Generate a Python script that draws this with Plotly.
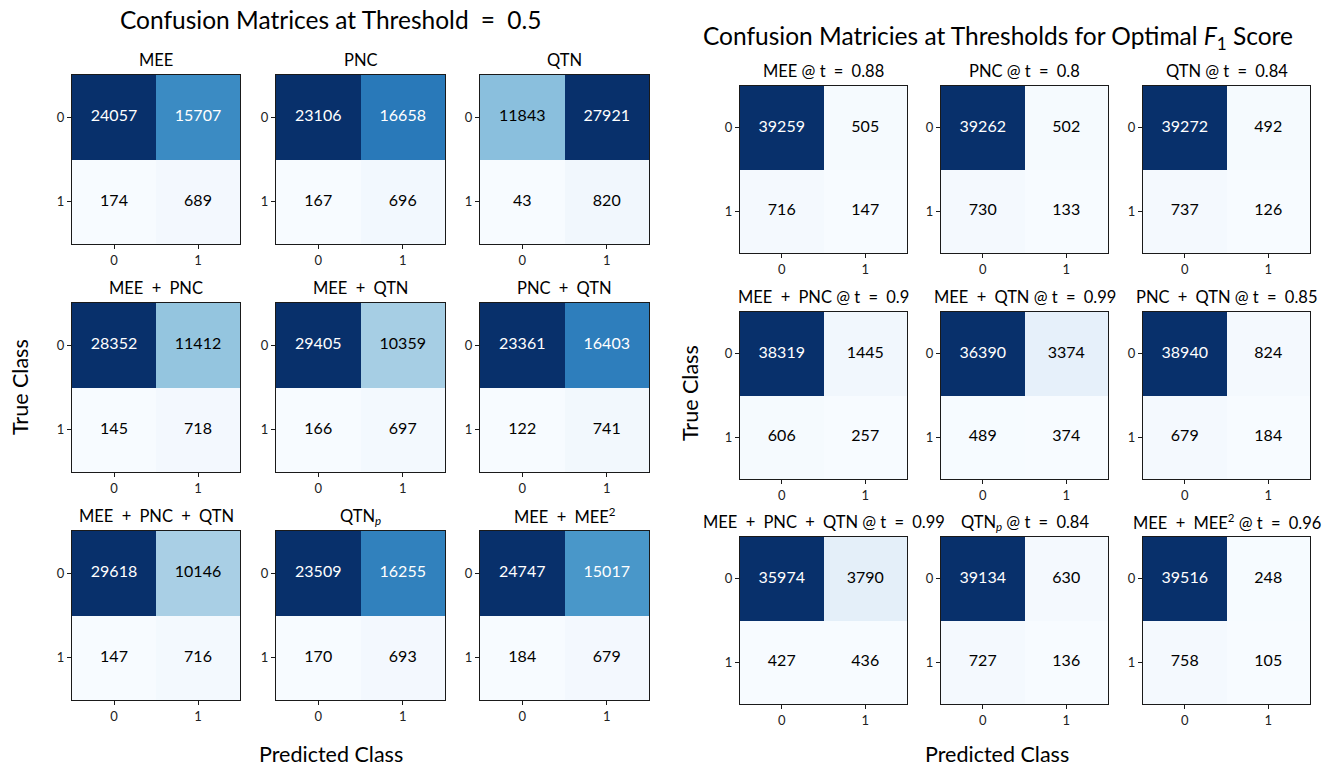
import plotly.graph_objects as go

# ---------------- data ----------------
classes = [0, 1]
tick_labels = ["0", "1"]

SP = "\u2002"  # wider math-like spacing around + and =
left_titles = ["MEE", "PNC", "QTN",
               f"MEE{SP}+{SP}PNC", f"MEE{SP}+{SP}QTN", f"PNC{SP}+{SP}QTN",
               f"MEE{SP}+{SP}PNC{SP}+{SP}QTN", "QTN<sub><i>p</i></sub>", f"MEE{SP}+{SP}MEE<sup>2</sup>"]
left_tn = [24057, 23106, 11843, 28352, 29405, 23361, 29618, 23509, 24747]
left_fp = [15707, 16658, 27921, 11412, 10359, 16403, 10146, 16255, 15017]
left_fn = [174, 167, 43, 145, 166, 122, 147, 170, 184]
left_tp = [689, 696, 820, 718, 697, 741, 716, 693, 679]

right_models = ["MEE", "PNC", "QTN",
                f"MEE{SP}+{SP}PNC", f"MEE{SP}+{SP}QTN", f"PNC{SP}+{SP}QTN",
                f"MEE{SP}+{SP}PNC{SP}+{SP}QTN", "QTN<sub><i>p</i></sub>", f"MEE{SP}+{SP}MEE<sup>2</sup>"]
right_thresholds = ["0.88", "0.8", "0.84", "0.9", "0.99", "0.85", "0.99", "0.84", "0.96"]
right_tn = [39259, 39262, 39272, 38319, 36390, 38940, 35974, 39134, 39516]
right_fp = [505, 502, 492, 1445, 3374, 824, 3790, 630, 248]
right_fn = [716, 730, 737, 606, 489, 679, 427, 727, 758]
right_tp = [147, 133, 126, 257, 374, 184, 436, 136, 105]

# ---------------- layout geometry (pixels) ----------------
W, H = 1332, 768
FONT = "Lato, 'Open Sans', sans-serif"
BLUES = [[0.0, "rgb(247,251,255)"], [0.125, "rgb(222,235,247)"], [0.25, "rgb(198,219,239)"],
         [0.375, "rgb(158,202,225)"], [0.5, "rgb(107,174,214)"], [0.625, "rgb(66,146,198)"],
         [0.75, "rgb(33,113,181)"], [0.875, "rgb(8,81,156)"], [1.0, "rgb(8,48,107)"]]

left_cols = [(72, 240), (276, 445), (480, 649)]
left_rows = [(75, 244), (303, 472), (531, 700)]
right_cols = [(740, 907), (941, 1108), (1143, 1310)]
right_rows = [(86, 253), (312, 479), (537, 704)]


def px_x(p):
    return p / W


def px_y(p):
    return 1 - p / H


fig = go.Figure()
layout_axes = {}
annotations = []


def add_matrix(k, col, row, tn, fp, fn, tp, title):
    z = [[tn, fp], [fn, tp]]
    vals = [tn, fp, fn, tp]
    zmin, zmax = min(vals), max(vals)
    thresh = (zmin + zmax) / 2
    xs = f"x{k}" if k > 1 else "x"
    ys = f"y{k}" if k > 1 else "y"
    fig.add_trace(go.Heatmap(z=z, x=classes, y=classes, colorscale=BLUES, zmin=zmin, zmax=zmax,
                             showscale=False, xaxis=xs, yaxis=ys, hoverinfo="z"))
    tx, ty, tt, tc = [], [], [], []
    for i in range(2):
        for j in range(2):
            v = z[i][j]
            tx.append(classes[j])
            ty.append(classes[i])
            tt.append(str(v))
            tc.append("white" if v > thresh else "black")
    fig.add_trace(go.Scatter(x=tx, y=ty, text=tt, mode="text",
                             textfont=dict(family=FONT, size=16, color=tc),
                             xaxis=xs, yaxis=ys, showlegend=False, hoverinfo="skip"))
    axcommon = dict(showline=True, mirror=True, linecolor="#1a1a1a", linewidth=1.3,
                    ticks="outside", ticklen=4, tickwidth=1, tickcolor="#1a1a1a",
                    tickvals=classes, ticktext=tick_labels, showgrid=False, zeroline=False,
                    tickfont=dict(family=FONT, size=13, color="#222"), fixedrange=True)
    xname = f"xaxis{k}" if k > 1 else "xaxis"
    yname = f"yaxis{k}" if k > 1 else "yaxis"
    layout_axes[xname] = dict(axcommon, domain=[px_x(col[0]), px_x(col[1])], anchor=ys,
                              range=[-0.5, 1.5])
    layout_axes[yname] = dict(axcommon, domain=[px_y(row[1]), px_y(row[0])], anchor=xs,
                              range=[1.5, -0.5])
    annotations.append(dict(text=title, x=px_x((col[0] + col[1]) / 2), y=px_y(row[0] - 15),
                            xref="paper", yref="paper", xanchor="center", yanchor="middle",
                            showarrow=False, font=dict(family=FONT, size=16.5, color="black")))


k = 1
for idx in range(9):
    r, c = divmod(idx, 3)
    add_matrix(k, left_cols[c], left_rows[r], left_tn[idx], left_fp[idx], left_fn[idx],
               left_tp[idx], left_titles[idx])
    k += 1
for idx in range(9):
    r, c = divmod(idx, 3)
    title = f"{right_models[idx]} @ t{SP}={SP}{right_thresholds[idx]}"
    add_matrix(k, right_cols[c], right_rows[r], right_tn[idx], right_fp[idx], right_fn[idx],
               right_tp[idx], title)
    k += 1

# main titles and axis labels
big = dict(family=FONT, size=24.5, color="black")
lab = dict(family=FONT, size=21.5, color="black")
annotations += [
    dict(text=f"Confusion Matrices at Threshold{SP}={SP}0.5", x=px_x(331), y=px_y(20), font=big),
    dict(text="Confusion Matricies at Thresholds for Optimal <i>F</i><sub>1</sub> Score",
         x=px_x(998), y=px_y(38), font=big),
    dict(text="Predicted Class", x=px_x(331), y=px_y(754), font=lab),
    dict(text="Predicted Class", x=px_x(997), y=px_y(754), font=lab),
    dict(text="True Class", x=px_x(20), y=px_y(387), font=lab, textangle=-90),
    dict(text="True Class", x=px_x(690), y=px_y(393), font=lab, textangle=-90),
]
for a in annotations[-6:]:
    a.update(xref="paper", yref="paper", xanchor="center", yanchor="middle", showarrow=False)

fig.update_layout(width=W, height=H, margin=dict(l=0, r=0, t=0, b=0),
                  paper_bgcolor="white", plot_bgcolor="white", showlegend=False,
                  annotations=annotations, **layout_axes)

fig.write_html("out.html", config={"displayModeBar": False},
               post_script="document.body.style.margin='0';document.body.style.overflow='hidden';")
